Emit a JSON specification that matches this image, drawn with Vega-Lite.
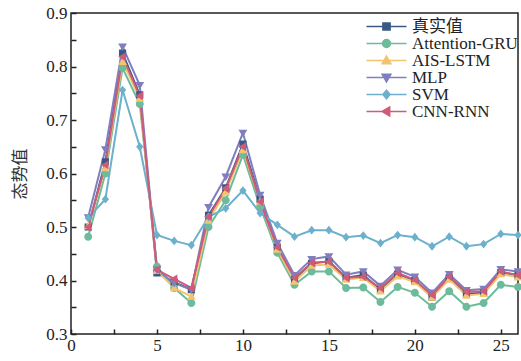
{
  "$schema": "https://vega.github.io/schema/vega-lite/v6.json",
  "width": 447,
  "height": 321,
  "autosize": {"type": "none"},
  "padding": {"left": 71, "top": 13, "right": 3, "bottom": 27},
  "background": "white",
  "config": {
    "view": {"stroke": "#222", "strokeWidth": 1.5},
    "font": "Liberation Serif, Times New Roman, serif",
    "axis": {
      "domain": false, "tickColor": "#222", "tickWidth": 1.5, "offset": -5, "tickSize": 5,
      "grid": false, "labelFontSize": 17, "labelColor": "#222"
    }
  },
  "data": {
    "values": [
      {"x":1,"真实值":0.500,"Attention-GRU":0.482,"AIS-LSTM":0.502,"MLP":0.518,"SVM":0.517,"CNN-RNN":0.500},
      {"x":2,"真实值":0.622,"Attention-GRU":0.600,"AIS-LSTM":0.610,"MLP":0.645,"SVM":0.552,"CNN-RNN":0.616},
      {"x":3,"真实值":0.825,"Attention-GRU":0.797,"AIS-LSTM":0.809,"MLP":0.837,"SVM":0.756,"CNN-RNN":0.818},
      {"x":4,"真实值":0.747,"Attention-GRU":0.730,"AIS-LSTM":0.740,"MLP":0.765,"SVM":0.650,"CNN-RNN":0.745},
      {"x":5,"真实值":0.414,"Attention-GRU":0.426,"AIS-LSTM":0.418,"MLP":0.420,"SVM":0.485,"CNN-RNN":0.420},
      {"x":6,"真实值":0.397,"Attention-GRU":0.386,"AIS-LSTM":0.386,"MLP":0.395,"SVM":0.474,"CNN-RNN":0.403},
      {"x":7,"真实值":0.383,"Attention-GRU":0.358,"AIS-LSTM":0.370,"MLP":0.383,"SVM":0.466,"CNN-RNN":0.386},
      {"x":8,"真实值":0.522,"Attention-GRU":0.500,"AIS-LSTM":0.512,"MLP":0.537,"SVM":0.519,"CNN-RNN":0.519},
      {"x":9,"真实值":0.573,"Attention-GRU":0.550,"AIS-LSTM":0.565,"MLP":0.594,"SVM":0.535,"CNN-RNN":0.572},
      {"x":10,"真实值":0.655,"Attention-GRU":0.635,"AIS-LSTM":0.644,"MLP":0.676,"SVM":0.568,"CNN-RNN":0.650},
      {"x":11,"真实值":0.552,"Attention-GRU":0.538,"AIS-LSTM":0.548,"MLP":0.560,"SVM":0.526,"CNN-RNN":0.547},
      {"x":12,"真实值":0.462,"Attention-GRU":0.452,"AIS-LSTM":0.458,"MLP":0.470,"SVM":0.504,"CNN-RNN":0.462},
      {"x":13,"真实值":0.402,"Attention-GRU":0.392,"AIS-LSTM":0.398,"MLP":0.410,"SVM":0.482,"CNN-RNN":0.405},
      {"x":14,"真实值":0.432,"Attention-GRU":0.417,"AIS-LSTM":0.428,"MLP":0.440,"SVM":0.494,"CNN-RNN":0.433},
      {"x":15,"真实值":0.436,"Attention-GRU":0.417,"AIS-LSTM":0.430,"MLP":0.445,"SVM":0.494,"CNN-RNN":0.435},
      {"x":16,"真实值":0.405,"Attention-GRU":0.386,"AIS-LSTM":0.402,"MLP":0.411,"SVM":0.481,"CNN-RNN":0.405},
      {"x":17,"真实值":0.410,"Attention-GRU":0.387,"AIS-LSTM":0.405,"MLP":0.417,"SVM":0.484,"CNN-RNN":0.407},
      {"x":18,"真实值":0.383,"Attention-GRU":0.360,"AIS-LSTM":0.380,"MLP":0.390,"SVM":0.470,"CNN-RNN":0.386},
      {"x":19,"真实值":0.412,"Attention-GRU":0.388,"AIS-LSTM":0.408,"MLP":0.420,"SVM":0.485,"CNN-RNN":0.414},
      {"x":20,"真实值":0.400,"Attention-GRU":0.377,"AIS-LSTM":0.397,"MLP":0.407,"SVM":0.481,"CNN-RNN":0.401},
      {"x":21,"真实值":0.369,"Attention-GRU":0.351,"AIS-LSTM":0.368,"MLP":0.377,"SVM":0.464,"CNN-RNN":0.373},
      {"x":22,"真实值":0.405,"Attention-GRU":0.380,"AIS-LSTM":0.402,"MLP":0.412,"SVM":0.482,"CNN-RNN":0.407},
      {"x":23,"真实值":0.375,"Attention-GRU":0.351,"AIS-LSTM":0.372,"MLP":0.382,"SVM":0.464,"CNN-RNN":0.379},
      {"x":24,"真实值":0.377,"Attention-GRU":0.358,"AIS-LSTM":0.375,"MLP":0.384,"SVM":0.468,"CNN-RNN":0.380},
      {"x":25,"真实值":0.415,"Attention-GRU":0.392,"AIS-LSTM":0.412,"MLP":0.421,"SVM":0.487,"CNN-RNN":0.417},
      {"x":26,"真实值":0.410,"Attention-GRU":0.388,"AIS-LSTM":0.406,"MLP":0.417,"SVM":0.485,"CNN-RNN":0.410}
    ]
  },
  "transform": [
    {"fold": ["真实值","Attention-GRU","AIS-LSTM","MLP","SVM","CNN-RNN"], "as": ["s","v"]}
  ],
  "encoding": {
    "x": {
      "field": "x", "type": "quantitative",
      "scale": {"domain": [0, 26], "nice": false, "zero": false},
      "axis": {
        "title": null,
        "values": [0,2.5,5,7.5,10,12.5,15,17.5,20,22.5,25],
        "labelExpr": "datum.value % 5 === 0 ? datum.label : ''",
        "labelFont": "Liberation Serif", "labelFontSize": 17,
        "labelPadding": 3, "labelFlush": false
      }
    },
    "y": {
      "field": "v", "type": "quantitative",
      "scale": {"domain": [0.3, 0.9], "nice": false, "zero": false},
      "axis": {
        "title": "态势值",
        "titleFont": "Noto Sans CJK SC", "titleFontWeight": "normal", "titleFontSize": 17, "titleColor": "#333",
        "titlePadding": 16,
        "values": [0.3,0.35,0.4,0.45,0.5,0.55,0.6,0.65,0.7,0.75,0.8,0.85,0.9],
        "labelExpr": "round(datum.value*100) % 10 === 0 ? format(datum.value, '.1f') : ''",
        "labelFont": "Liberation Serif", "labelFontSize": 17,
        "labelPadding": 4
      }
    },
    "color": {
      "field": "s", "type": "nominal",
      "scale": {
        "domain": ["真实值","Attention-GRU","AIS-LSTM","MLP","SVM","CNN-RNN"],
        "range": ["#3a5a85","#6dbb9b","#f2c46f","#7f7fbf","#6cb0cc","#cf5b78"]
      },
      "legend": {
        "title": null,
        "orient": "none",
        "legendX": 307,
        "legendY": 5,
        "padding": 0,
        "symbolSize": 64,
        "labelOffset": 17,
        "labelFont": "Liberation Serif, Noto Sans CJK SC",
        "labelFontSize": 17,
        "labelColor": "#222",
        "rowPadding": -2.2,
        "symbolStrokeWidth": 1.5,
        "encode": {
          "symbols": {"update": {"stroke": {"scale": "color", "field": "value"}, "fill": {"scale": "color", "field": "value"}, "strokeWidth": {"value": 1.5}, "opacity": {"value": 1}}}
        }
      }
    }
  },
  "layer": [
    {
      "mark": {"type": "line", "strokeWidth": 2},
      "encoding": {"detail": {"field": "s"}}
    },
    {
      "mark": {"type": "point", "filled": true, "opacity": 1, "size": 64, "strokeWidth": 0},
      "encoding": {
        "shape": {
          "field": "s", "type": "nominal",
          "scale": {
            "domain": ["真实值","Attention-GRU","AIS-LSTM","MLP","SVM","CNN-RNN"],
            "range": [
              "M-5,0H5M-0.9,-0.9H0.9V0.9H-0.9Z",
              "M-5,0H5M-1,0A1,1 0 1,0 1,0A1,1 0 1,0 -1,0Z",
              "M-5,0H5M0,-1.1L1.1,0.8L-1.1,0.8Z",
              "M-5,0H5M0,1.1L1.1,-0.8L-1.1,-0.8Z",
              "M-5,0H5M0,-1.1L0.9,0L0,1.1L-0.9,0Z",
              "M-5,0H5M-1.1,0L0.8,-1.1L0.8,1.1Z"
            ]
          },
          "legend": {
            "title": null,
            "orient": "none",
            "legendX": 307,
            "legendY": 5,
            "padding": 0,
            "symbolSize": 64,
            "labelOffset": 17,
            "labelFont": "Liberation Serif, Noto Sans CJK SC",
            "labelFontSize": 17,
            "labelColor": "#222",
            "rowPadding": -2.2,
            "symbolStrokeWidth": 1.5,
            "encode": {
              "symbols": {"update": {"stroke": {"scale": "color", "field": "value"}, "fill": {"scale": "color", "field": "value"}, "strokeWidth": {"value": 1.5}, "opacity": {"value": 1}}}
            }
          }
        }
      }
    }
  ]
}
